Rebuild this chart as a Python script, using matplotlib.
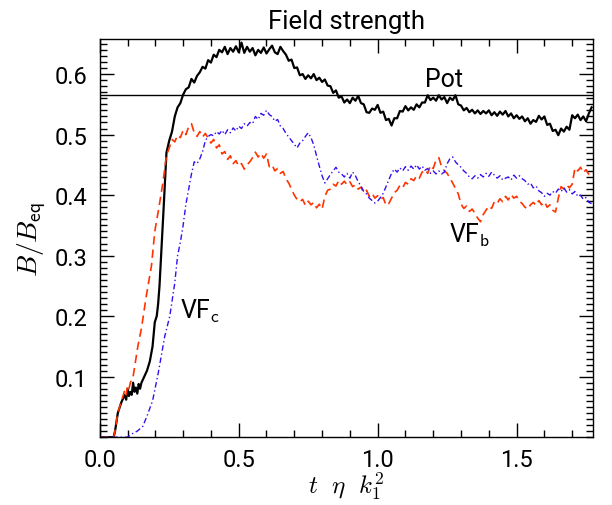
import matplotlib
matplotlib.use("Agg")
import matplotlib.pyplot as plt
from matplotlib.ticker import MultipleLocator

plt.rcParams['mathtext.fontset'] = 'cm'
plt.rcParams['font.family'] = ['Roboto', 'DejaVu Sans']

pot_level = 0.565
step = 0.01

# ---- black (solid) ----
black_early_x = [0.0, 0.05, 0.055, 0.065, 0.078, 0.085, 0.09, 0.095, 0.10, 0.105, 0.11, 0.115, 0.12,
                 0.125, 0.13, 0.135, 0.14, 0.145, 0.15, 0.16, 0.17, 0.18, 0.19, 0.198, 0.205, 0.21,
                 0.215, 0.222, 0.23, 0.24]
black_early_y = [0.0, 0.0, 0.01, 0.04, 0.058, 0.065, 0.07, 0.062, 0.08, 0.068, 0.075, 0.07, 0.09,
                 0.075, 0.082, 0.072, 0.088, 0.08, 0.09, 0.10, 0.11, 0.125, 0.15, 0.19, 0.20, 0.22,
                 0.25, 0.31, 0.38, 0.47]
black_start = 0.25
black_y = [0.49, 0.505, 0.53, 0.545, 0.552, 0.566, 0.575, 0.578, 0.592, 0.586, 0.597, 0.603, 0.612,
           0.609, 0.623, 0.619, 0.632, 0.628, 0.64, 0.636, 0.645, 0.633, 0.643, 0.637, 0.646, 0.636,
           0.652, 0.635, 0.645, 0.637, 0.643, 0.631, 0.64, 0.635, 0.644, 0.634, 0.641, 0.647, 0.636,
           0.633, 0.645, 0.638, 0.632, 0.622, 0.624, 0.61, 0.611, 0.598, 0.6, 0.592, 0.598, 0.593,
           0.6, 0.59, 0.594, 0.587, 0.591, 0.581, 0.58, 0.569, 0.573, 0.561, 0.563, 0.553, 0.558,
           0.552, 0.561, 0.556, 0.564, 0.552, 0.55, 0.537, 0.536, 0.543, 0.541, 0.549, 0.536, 0.538,
           0.524, 0.526, 0.515, 0.527, 0.527, 0.539, 0.538, 0.547, 0.54, 0.545, 0.541, 0.55, 0.545,
           0.553, 0.553, 0.565, 0.557, 0.561, 0.556, 0.565, 0.558, 0.562, 0.552, 0.561, 0.557, 0.565,
           0.55, 0.548, 0.54, 0.544, 0.537, 0.541, 0.535, 0.54, 0.534, 0.539, 0.535, 0.54, 0.532,
           0.537, 0.531, 0.538, 0.533, 0.539, 0.53, 0.535, 0.527, 0.532, 0.526, 0.53, 0.522, 0.527,
           0.518, 0.524, 0.521, 0.531, 0.525, 0.53, 0.516, 0.518, 0.506, 0.508, 0.499, 0.51, 0.505,
           0.513, 0.508, 0.532, 0.527, 0.533, 0.524, 0.53, 0.522, 0.535, 0.545]

# ---- red (dashed) ----
red_early_x = [0.0, 0.05, 0.055, 0.065, 0.078, 0.085, 0.09, 0.095, 0.10, 0.105, 0.11, 0.12, 0.13,
               0.137, 0.15, 0.168, 0.186, 0.198, 0.213, 0.227, 0.24]
red_early_y = [0.0, 0.0, 0.01, 0.04, 0.06, 0.07, 0.078, 0.07, 0.085, 0.08, 0.09, 0.10, 0.13,
               0.15, 0.18, 0.235, 0.283, 0.34, 0.38, 0.42, 0.465]
red_start = 0.25
red_y = [0.478, 0.492, 0.488, 0.499, 0.495, 0.507, 0.5, 0.513, 0.518, 0.503, 0.497, 0.505, 0.496,
         0.502, 0.494, 0.486, 0.492, 0.478, 0.483, 0.468, 0.472, 0.459, 0.465, 0.452, 0.457, 0.448,
         0.452, 0.443, 0.45, 0.455, 0.462, 0.471, 0.463, 0.469, 0.461, 0.468, 0.447, 0.45, 0.44,
         0.444, 0.436, 0.439, 0.427, 0.42, 0.41, 0.4, 0.393, 0.389, 0.393, 0.383, 0.39, 0.384, 0.388,
         0.379, 0.385, 0.377, 0.398, 0.408, 0.41, 0.418, 0.415, 0.424, 0.418, 0.423, 0.417, 0.422,
         0.414, 0.417, 0.41, 0.413, 0.404, 0.408, 0.398, 0.403, 0.395, 0.399, 0.393, 0.396, 0.383,
         0.386, 0.395, 0.404, 0.408, 0.416, 0.412, 0.421, 0.418, 0.427, 0.424, 0.432, 0.428, 0.438,
         0.442, 0.436, 0.449, 0.444, 0.458, 0.462, 0.447, 0.44, 0.436, 0.428, 0.42, 0.411, 0.402,
         0.385, 0.378, 0.382, 0.373, 0.377, 0.37, 0.362, 0.356, 0.368, 0.375, 0.382, 0.378, 0.389,
         0.386, 0.394, 0.389, 0.398, 0.392, 0.401, 0.395, 0.398, 0.39, 0.386, 0.38, 0.377, 0.384,
         0.388, 0.383, 0.391, 0.384, 0.389, 0.38, 0.384, 0.375, 0.372, 0.395, 0.414, 0.41, 0.417,
         0.412, 0.418, 0.445, 0.44, 0.446, 0.437, 0.442, 0.434, 0.44]

# ---- blue (dash-dot) ----
blue_early_x = [0.0, 0.10, 0.114, 0.135, 0.155, 0.17, 0.19, 0.21, 0.234, 0.252, 0.27, 0.28, 0.29]
blue_early_y = [0.0, 0.0, 0.005, 0.01, 0.018, 0.035, 0.06, 0.105, 0.167, 0.20, 0.255, 0.30, 0.322]
blue_start = 0.30
blue_y = [0.35, 0.385, 0.41, 0.435, 0.455, 0.452, 0.46, 0.472, 0.49, 0.497, 0.5, 0.498, 0.505,
          0.501, 0.507, 0.5, 0.508, 0.503, 0.511, 0.506, 0.514, 0.51, 0.518, 0.514, 0.52, 0.518,
          0.53, 0.525, 0.535, 0.532, 0.54, 0.533, 0.53, 0.522, 0.525, 0.514, 0.51, 0.502, 0.496,
          0.49, 0.484, 0.478, 0.486, 0.49, 0.497, 0.503, 0.495, 0.483, 0.465, 0.448, 0.432, 0.42,
          0.427, 0.434, 0.44, 0.446, 0.438, 0.435, 0.43, 0.436, 0.428, 0.438, 0.432, 0.422, 0.415,
          0.406, 0.402, 0.395, 0.391, 0.387, 0.39, 0.396, 0.403, 0.414, 0.425, 0.436, 0.443, 0.438,
          0.445, 0.44, 0.447, 0.441, 0.448, 0.443, 0.45, 0.443, 0.448, 0.441, 0.444, 0.436, 0.44,
          0.435, 0.44, 0.435, 0.438, 0.452, 0.46, 0.463, 0.455, 0.45, 0.446, 0.44, 0.436, 0.43,
          0.427, 0.432, 0.428, 0.434, 0.43, 0.436, 0.431, 0.438, 0.433, 0.428, 0.432, 0.425, 0.428,
          0.43, 0.425, 0.433, 0.428, 0.432, 0.427, 0.424, 0.418, 0.42, 0.412, 0.415, 0.407, 0.404,
          0.398, 0.403, 0.4, 0.406, 0.403, 0.41, 0.406, 0.412, 0.405, 0.409, 0.402, 0.406, 0.398,
          0.4, 0.393, 0.396, 0.388, 0.386]


def full_series(ex, ey, start, ys):
    xs = list(ex) + [round(start + step * i, 4) for i in range(len(ys))]
    return xs, list(ey) + list(ys)


bx, by = full_series(black_early_x, black_early_y, black_start, black_y)
rx, ry = full_series(red_early_x, red_early_y, red_start, red_y)
ux, uy = full_series(blue_early_x, blue_early_y, blue_start, blue_y)

fig = plt.figure(figsize=(6.12, 5.06), dpi=100)
ax = fig.add_axes([0.163, 0.134, 0.806, 0.787])

ax.plot(bx, by, color='black', lw=1.6)
ax.plot(rx, ry, color='#ff3300', lw=1.2, ls=(0, (5, 3)))
ax.plot(ux, uy, color='#3311ee', lw=1.0, ls=(0, (4, 2, 1, 2)))
ax.axhline(pot_level, color='black', lw=1.0)

ax.set_xlim(0, 1.775)
ax.set_ylim(0, 0.658)
ax.set_xticks([0.0, 0.5, 1.0, 1.5])
ax.set_xticklabels(['0.0', '0.5', '1.0', '1.5'])
ax.set_yticks([0.1, 0.2, 0.3, 0.4, 0.5, 0.6])
ax.set_yticklabels(['0.1', '0.2', '0.3', '0.4', '0.5', '0.6'])
ax.xaxis.set_minor_locator(MultipleLocator(0.1))
ax.yaxis.set_minor_locator(MultipleLocator(0.01))
ax.tick_params(which='both', direction='in', top=True, right=True, labelsize=17, width=1)
ax.tick_params(which='major', length=10, pad=9)
ax.tick_params(axis='x', which='major', pad=8)
ax.tick_params(which='minor', length=5)
for s in ax.spines.values():
    s.set_linewidth(1.0)

ax.text(1.24, 0.592, 'Pot', fontsize=18, ha='center', va='center')
ax.text(1.33, 0.335, r'VF$_{\mathsf{b}}$', fontsize=18, ha='center', va='center')
ax.text(0.36, 0.21, r'VF$_{\mathsf{c}}$', fontsize=18, ha='center', va='center')

ax.set_title('Field strength', fontsize=18.5, pad=8)
ax.set_xlabel(r'$t\ \ \eta\ \ k_1^2$', fontsize=18, labelpad=-1)
ax.set_ylabel(r'$B/B_{\mathsf{eq}}$', fontsize=20, labelpad=4)

fig.savefig('out.png', dpi=100)
